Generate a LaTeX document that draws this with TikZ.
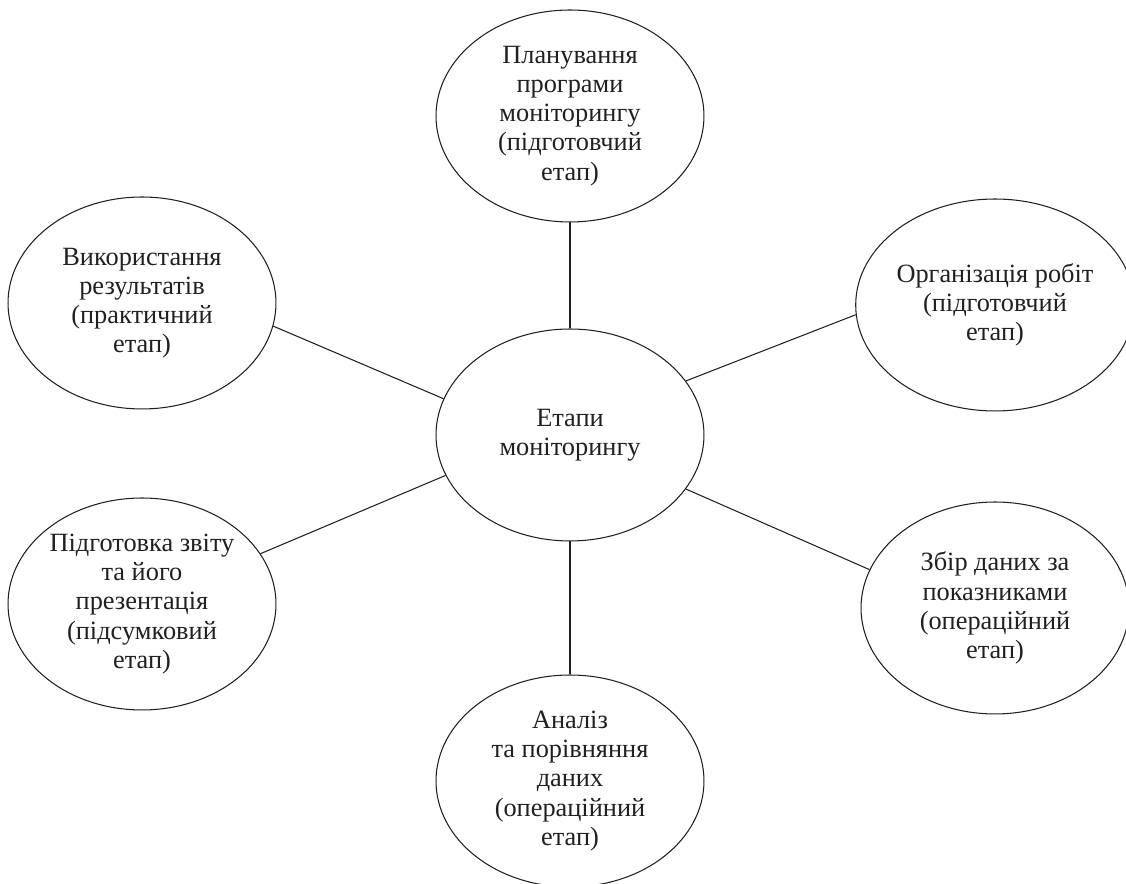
\documentclass[tikz,border=0pt]{standalone}
\usepackage{fontspec}
\setmainfont{Liberation Serif}
\usepackage{tikz}
\usetikzlibrary{shapes.geometric}

\definecolor{ink}{RGB}{35,31,32}
\tikzset{
stage/.style={draw=ink, ellipse, minimum width=5.36cm, minimum height=4.24cm,
  inner sep=0pt, align=center, line width=0.6pt, text=ink,
  font=\fontsize{15}{16.6}\selectfont\setlength\baselineskip{16.6pt}},
link/.style={draw=ink, line width=0.6pt}
}

\begin{document}
\begin{tikzpicture}[x=0.02cm,y=0.02cm]
\useasboundingbox (-570,435) rectangle (556,-449);
%----------------------------------
\node[stage] (etapy) at (0,0) {Етапи\\моніторингу};
\node[stage] (plan) at (0,319) {Планування\\програми\\моніторингу\\(підготовчий\\етап)};
\node[stage] (org) at (425,130) {Організація робіт\\(підготовчий\\етап)};
\node[stage] (zbir) at (425,-173) {Збір даних за\\показниками\\(операційний\\етап)};
\node[stage] (analiz) at (0,-346) {Аналіз\\та порівняння\\даних\\(операційний\\етап)};
\node[stage] (zvit) at (-428,-169) {Підготовка звіту\\та його\\презентація\\(підсумковий\\етап)};
\node[stage] (vykor) at (-428,132) {Використання\\результатів\\(практичний\\етап)};
%----------------------------------
\draw[link] (plan) -- (etapy);
\draw[link] (etapy) -- (analiz);
\draw[link] (vykor.-10.5) -- (etapy.164.6);
\draw[link] (org.-176.5) -- (etapy.25.6);
\draw[link] (zvit.23.8) -- (etapy.198.3);
\draw[link] (zbir.163) -- (etapy.-25.6);
\end{tikzpicture}
\end{document}
